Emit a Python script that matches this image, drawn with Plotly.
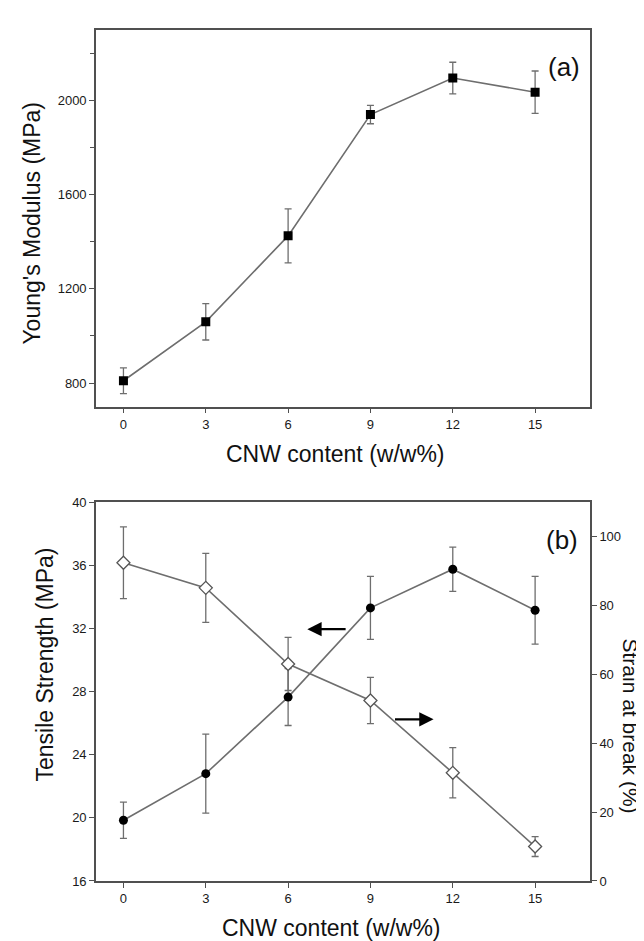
import plotly.graph_objects as go

# ---------------- data ----------------
cnw = [0, 3, 6, 9, 12, 15]
x_ticks = [0, 3, 6, 9, 12, 15]

modulus = [810, 1060, 1425, 1940, 2095, 2035]
modulus_err = [55, 77, 115, 39, 67, 90]

tensile = [19.85, 22.8, 27.65, 33.3, 35.75, 33.15]
tensile_err = [1.15, 2.5, 1.8, 2.0, 1.4, 2.15]

strain = [92.4, 85.1, 63.0, 52.4, 31.4, 10.0]
strain_err = [10.4, 10.0, 7.7, 6.7, 7.3, 2.9]

W, H = 644, 941
LINE = "#6e6e6e"
AX = "#505050"
TICKFONT = dict(family="Liberation Sans Narrow, Arial Narrow, Liberation Sans, Arial", size=13, color="#1a1a1a")
TITLEFONT = "Liberation Sans, Arial, sans-serif"


def px(x):
    return x / W


def py(y):
    return 1 - y / H


fig = go.Figure()

err_style = dict(type="data", color=LINE, thickness=1.3, width=3.5)

# (a) Young's modulus
fig.add_trace(go.Scatter(
    x=cnw, y=modulus, mode="lines+markers",
    line=dict(color=LINE, width=1.6),
    marker=dict(symbol="square", size=9, color="black"),
    error_y=dict(array=modulus_err, **err_style),
    xaxis="x", yaxis="y", showlegend=False))

# (b) tensile strength (left axis)
fig.add_trace(go.Scatter(
    x=cnw, y=tensile, mode="lines+markers",
    line=dict(color=LINE, width=1.6),
    marker=dict(symbol="circle", size=9, color="black"),
    error_y=dict(array=tensile_err, **err_style),
    xaxis="x2", yaxis="y2", showlegend=False))

# (b) strain at break (right axis)
fig.add_trace(go.Scatter(
    x=cnw, y=strain, mode="lines+markers",
    line=dict(color=LINE, width=1.6),
    marker=dict(symbol="diamond", size=10, color="white",
                line=dict(color="#555", width=1.3)),
    error_y=dict(array=strain_err, **err_style),
    xaxis="x2", yaxis="y3", showlegend=False))

axis_common = dict(
    showgrid=False, zeroline=False, showline=True, linecolor=AX, linewidth=1.6,
    ticks="outside", ticklen=5, tickwidth=1.3, tickcolor=AX, tickfont=TICKFONT,
)

x_dom = [px(88), px(582)]

fig.update_layout(
    width=W, height=H,
    margin=dict(l=0, r=0, t=0, b=0),
    paper_bgcolor="white", plot_bgcolor="white",
    xaxis=dict(domain=x_dom, anchor="y", range=[-1, 17], tickvals=x_ticks,
               mirror=True, **axis_common),
    yaxis=dict(domain=[py(398), py(15)], anchor="x", range=[700, 2300],
               tickvals=[800, 1200, 1600, 2000], mirror=True,
               minor=dict(tickvals=[1000, 1400, 1800, 2200], ticklen=4,
                          tickwidth=1.2, tickcolor=AX, ticks="outside"),
               **axis_common),
    xaxis2=dict(domain=x_dom, anchor="y2", range=[-1, 17], tickvals=x_ticks,
                mirror=True, **axis_common),
    yaxis2=dict(domain=[py(880), py(495)], anchor="x2", range=[16, 40],
                tickvals=[16, 20, 24, 28, 32, 36, 40], **axis_common),
    yaxis3=dict(overlaying="y2", anchor="x2", side="right", range=[0, 110],
                tickvals=[0, 20, 40, 60, 80, 100], **axis_common),
)

annotations = [
    dict(text="Young's Modulus (MPa)", x=px(24), y=py(212), textangle=-90,
         font=dict(family=TITLEFONT, size=23, color="#111")),
    dict(text="CNW content (w/w%)", x=px(327), y=py(446),
         font=dict(family=TITLEFONT, size=23, color="#111")),
    dict(text="(a)", x=px(556), y=py(53),
         font=dict(family=TITLEFONT, size=26, color="#111")),
    dict(text="Tensile Strength (MPa)", x=px(37), y=py(660), textangle=-90,
         font=dict(family=TITLEFONT, size=23, color="#111")),
    dict(text="Strain at break (%)", x=px(623), y=py(722), textangle=90,
         font=dict(family=TITLEFONT, size=21, color="#111")),
    dict(text="CNW content (w/w%)", x=px(324), y=py(928),
         font=dict(family=TITLEFONT, size=23, color="#111")),
    dict(text="(b)", x=px(554), y=py(534),
         font=dict(family=TITLEFONT, size=26, color="#111")),
]
for a in annotations:
    a.update(xref="paper", yref="paper", showarrow=False,
             xanchor="center", yanchor="middle")

# direction arrows
annotations.append(dict(x=6.7, y=31.95, ax=8.15, ay=31.95,
                        xref="x2", yref="y2", axref="x2", ayref="y2",
                        showarrow=True, arrowhead=2, arrowsize=1.3,
                        arrowwidth=2.2, arrowcolor="black", text=""))
annotations.append(dict(x=11.3, y=26.24, ax=9.84, ay=26.24,
                        xref="x2", yref="y2", axref="x2", ayref="y2",
                        showarrow=True, arrowhead=2, arrowsize=1.3,
                        arrowwidth=2.2, arrowcolor="black", text=""))

fig.update_layout(annotations=annotations)

fig.write_html("out.html")
